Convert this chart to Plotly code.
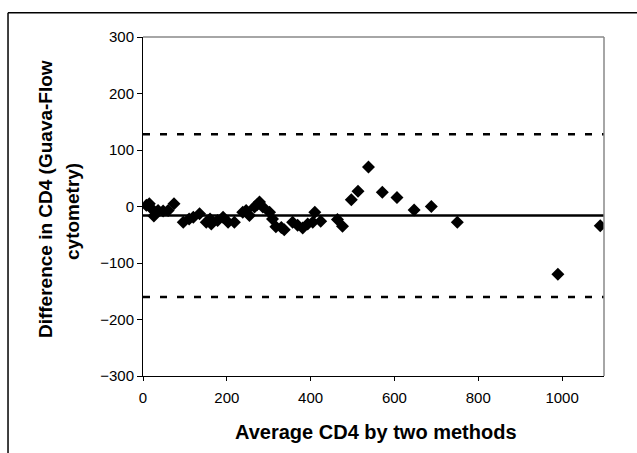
import plotly.graph_objects as go

# Bland-Altman data: average CD4 by two methods vs difference (Guava - Flow)
avg_cd4 = [8, 15, 22, 26, 36, 48, 60, 74, 96, 110, 120, 135, 151, 160, 163, 178,
           191, 203, 218, 238, 246, 254, 266, 272, 278, 286, 302, 309, 317, 330,
           337, 357, 369, 381, 393, 405, 410, 424, 464, 476, 497, 513, 538, 571,
           606, 647, 688, 750, 990, 1091]
diff_cd4 = [2, 5, -5, -17, -7, -8, -7, 5, -28, -22, -19, -13, -28, -22, -31, -25,
            -19, -28, -28, -10, -7, -16, -1, 3, 8, -1, -10, -22, -36, -37,
            -41, -28, -33, -38, -31, -28, -10, -26, -23, -35, 12, 27, 70, 25,
            16, -6, 0, -28, -120, -34]

mean_diff = -16
upper_loa = 128
lower_loa = -160
line_x = [0, 1100]

x_ticks = [0, 200, 400, 600, 800, 1000]
y_ticks = [-300, -200, -100, 0, 100, 200, 300]

FONT = "Arial, Liberation Sans, sans-serif"

fig = go.Figure()
fig.add_trace(go.Scatter(x=line_x, y=[upper_loa, upper_loa], mode="lines",
                         line=dict(color="black", width=2.5, dash="7px,10px"),
                         showlegend=False, hoverinfo="skip"))
fig.add_trace(go.Scatter(x=line_x, y=[lower_loa, lower_loa], mode="lines",
                         line=dict(color="black", width=2.5, dash="7px,10px"),
                         showlegend=False, hoverinfo="skip"))
fig.add_trace(go.Scatter(x=line_x, y=[mean_diff, mean_diff], mode="lines",
                         line=dict(color="black", width=2.5),
                         showlegend=False, hoverinfo="skip"))
fig.add_trace(go.Scatter(x=avg_cd4, y=diff_cd4, mode="markers",
                         marker=dict(symbol="diamond", size=10, color="black"),
                         showlegend=False))

fig.update_layout(
    width=637, height=453,
    margin=dict(l=143, r=33, t=37, b=77),
    paper_bgcolor="white", plot_bgcolor="white",
    font=dict(family=FONT, color="black", size=15),
    xaxis=dict(range=[0, 1100], tickvals=x_ticks, ticks="outside", ticklen=4,
               tickcolor="black", showline=True, linecolor="black", linewidth=1,
               showgrid=False, zeroline=False, tickfont=dict(size=15),
               ticklabelstandoff=4),
    yaxis=dict(range=[-300, 300], tickvals=y_ticks, ticks="outside", ticklen=5,
               tickcolor="black", showline=True, linecolor="black", linewidth=1,
               showgrid=False, zeroline=False, tickfont=dict(size=15)),
    shapes=[
        dict(type="line", xref="paper", yref="paper", x0=0, x1=1, y0=1, y1=1,
             line=dict(color="#888888", width=1.5)),
        dict(type="line", xref="paper", yref="paper", x0=1, x1=1, y0=0, y1=1,
             line=dict(color="#888888", width=1.5)),
        dict(type="line", xref="paper", yref="paper", x0=-0.2928, x1=1.5,
             y0=1.0717, y1=1.0717, line=dict(color="black", width=1.5)),
        dict(type="line", xref="paper", yref="paper", x0=-0.2928, x1=-0.2928,
             y0=-0.5, y1=1.0717, line=dict(color="black", width=1.5)),
    ],
    annotations=[
        dict(text="<b>Average CD4 by two methods</b>", xref="paper", yref="paper",
             x=0.505, y=-0.165, xanchor="center", yanchor="middle", showarrow=False,
             font=dict(size=20)),
        dict(text="<b>Difference in CD4 (Guava-Flow</b>", xref="paper", yref="paper",
             x=-0.2126, y=0.522, xanchor="center", yanchor="middle", textangle=-90,
             showarrow=False, font=dict(size=19)),
        dict(text="<b>cytometry)</b>", xref="paper", yref="paper",
             x=-0.1518, y=0.484, xanchor="center", yanchor="middle", textangle=-90,
             showarrow=False, font=dict(size=19)),
    ],
)

fig.write_html("out.html")
